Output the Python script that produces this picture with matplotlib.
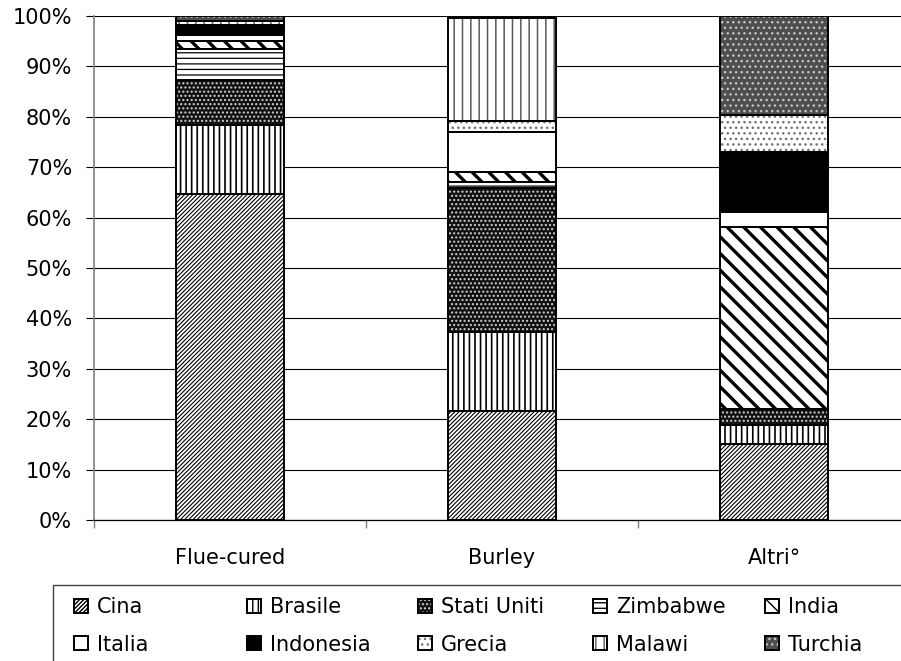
import matplotlib.pyplot as plt
import numpy as np
from matplotlib.patches import Rectangle
from matplotlib.ticker import FixedLocator


CATEGORIES = ["Flue-cured", "Burley", "Altri°"]
COUNTRIES = ["Cina", "Brasile", "Stati Uniti", "Zimbabwe", "India",
             "Italia", "Indonesia", "Grecia", "Malawi", "Turchia"]

# quota percentuale di ogni paese, stesso ordine di COUNTRIES
FLUE_CURED = [64.7, 13.7, 8.9, 6.2, 1.5, 1.2, 1.6, 0.4, 0.9, 0.9]
BURLEY = [21.6, 15.7, 28.6, 1.1, 2.1, 7.9, 0.0, 2.2, 20.4, 0.4]
ALTRI = [15.1, 3.7, 3.2, 0.0, 36.1, 3.0, 11.9, 7.3, 0.1, 19.6]

Y_TICKS = [0, 10, 20, 30, 40, 50, 60, 70, 80, 90, 100]

# (riempimento, retino, colore retino, spessore retino)
STYLES = [
    ("white", "/" * 8, "black", 0.8),
    ("white", "|||", "black", 1.2),
    ("#111111", "....", "#cfcfcf", 1.0),
    ("white", "---", "black", 0.9),
    ("white", "\\\\", "black", 2.4),
    ("white", "", "black", 1.0),
    ("black", "", "black", 1.0),
    ("white", "...", "#707070", 1.0),
    ("white", "||", "#5a5a5a", 1.1),
    ("#4e4e4e", "...", "#c4c4c4", 1.0),
]

FONT_SIZE = 15


def main():
    plt.rcParams["font.family"] = ["DejaVu Sans"]
    plt.rcParams["font.size"] = FONT_SIZE

    fig = plt.figure(figsize=(9.01, 6.61), dpi=100)
    fig.patch.set_facecolor("white")
    ax = fig.add_axes([94 / 901, 141 / 661, 816 / 901, 504 / 661])

    shares = np.array([FLUE_CURED, BURLEY, ALTRI])
    x = np.arange(len(CATEGORIES))
    bottom = np.zeros(len(CATEGORIES))
    handles = []
    for i, country in enumerate(COUNTRIES):
        face, hatch, hcolor, hwidth = STYLES[i]
        values = shares[:, i]
        fill = ax.bar(x, values, 0.4, bottom=bottom, color=face, edgecolor=hcolor,
                      linewidth=0, hatch=hatch or None, zorder=2)
        for patch in fill:
            if hasattr(patch, "set_hatch_linewidth"):
                patch.set_hatch_linewidth(hwidth)
        outline = ax.bar(x, values, 0.4, bottom=bottom, fill=False,
                         edgecolor="black", linewidth=1.4, zorder=3)
        handles.append((fill[0], outline[0]))
        bottom += values

    ax.set_xlim(-0.5, 2.5)
    ax.set_ylim(0, 100)
    ax.set_yticks(Y_TICKS)
    ax.set_yticklabels([f"{v}%" for v in Y_TICKS])
    ax.set_xticks(x)
    ax.set_xticklabels(CATEGORIES)
    ax.xaxis.set_minor_locator(FixedLocator([-0.5, 0.5, 1.5, 2.5]))

    ax.yaxis.grid(True, color="black", linewidth=0.8)
    ax.set_axisbelow(True)
    ax.tick_params(axis="y", length=5.8, width=0.8, color="black", pad=10)
    ax.tick_params(axis="x", which="major", length=0, pad=20)
    ax.tick_params(axis="x", which="minor", length=5.8, width=1, color="#808080")

    for side in ["top", "right"]:
        ax.spines[side].set_visible(False)
    ax.spines["left"].set_color("#808080")
    ax.spines["left"].set_linewidth(1.2)
    ax.spines["bottom"].set_color("black")
    ax.spines["bottom"].set_linewidth(0.9)

    # riquadro della legenda, tagliato dal bordo della figura
    fig.add_artist(Rectangle((53 / 901, -0.1), 1.0, (661 - 585) / 661 + 0.1,
                             transform=fig.transFigure, fill=False,
                             edgecolor="#404040", linewidth=1.0))

    column_x = [74, 247, 418, 593, 765]
    for col, left in enumerate(column_x):
        idx = [col, col + 5]
        fig.legend([handles[k] for k in idx], [COUNTRIES[k] for k in idx],
                   loc="upper left", bbox_to_anchor=(left / 901, 1 - 597 / 661),
                   frameon=False, borderpad=0, borderaxespad=0,
                   handlelength=0.65, handleheight=0.65, handletextpad=0.45,
                   labelspacing=0.85, fontsize=FONT_SIZE)

    fig.savefig("out.png", dpi=100, facecolor="white")
    plt.close(fig)


if __name__ == "__main__":
    main()
